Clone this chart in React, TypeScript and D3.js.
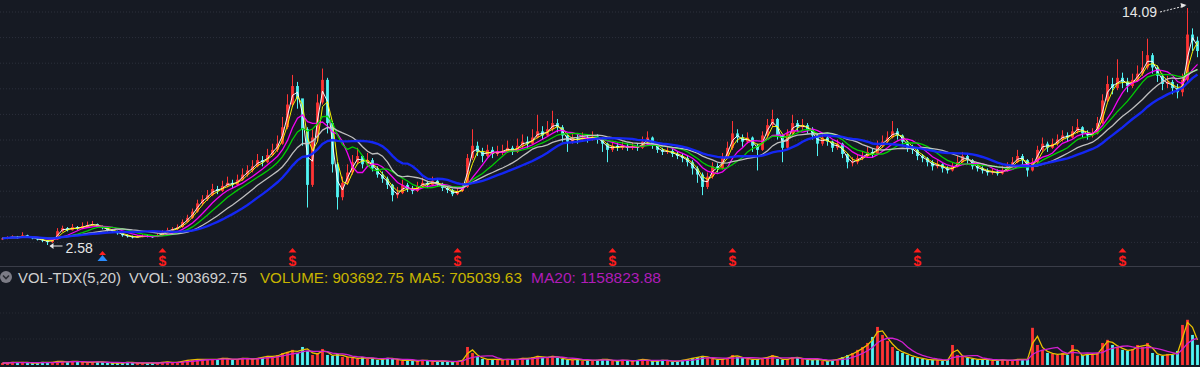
import React from "react";
import * as d3 from "d3";

// ---- data ----
const firstOpen = 2.85;
const closes = [
  2.90, 2.95, 2.98, 2.93, 3.05, 2.98, 2.90, 2.85, 2.80, 2.72,
  2.85, 3.25, 3.40, 3.30, 3.45, 3.38, 3.50, 3.55, 3.60, 3.48,
  3.40, 3.30, 3.25, 3.15, 3.05, 3.00, 2.95, 2.98, 3.02, 3.00,
  2.98, 3.05, 3.20, 3.30, 3.35, 3.45, 3.70, 3.90, 4.20, 4.60,
  4.80, 5.00, 5.30, 5.20, 5.45, 5.60, 5.50, 5.75, 6.00, 6.20,
  6.40, 6.70, 6.60, 6.95, 7.20, 7.50, 8.30, 9.40, 10.30, 9.70,
  8.20, 5.50, 7.80, 9.50, 10.60, 8.50, 6.50, 4.90, 5.60, 6.10,
  6.60, 6.90, 6.50, 6.70, 6.30, 6.00, 5.80, 5.50, 5.00, 5.10,
  5.50, 5.30, 5.20, 5.45, 5.60, 5.50, 5.70, 5.55, 5.35, 5.25,
  5.05, 5.20, 5.40, 6.80, 7.40, 7.10, 6.90, 7.20, 7.00, 7.10,
  7.15, 7.30, 7.10, 7.40, 7.60, 7.50, 7.80, 8.10, 7.90, 8.20,
  8.50, 8.30, 7.90, 7.60, 7.75, 7.70, 7.80, 7.75, 7.85, 7.70,
  7.50, 7.20, 7.40, 7.30, 7.40, 7.30, 7.35, 7.30, 7.60, 7.80,
  7.40, 7.20, 7.10, 7.15, 7.00, 6.90, 6.80, 6.60, 6.30, 6.00,
  5.40, 5.90, 6.40, 6.30, 6.80, 7.30, 8.00, 7.80, 7.60, 7.80,
  7.40, 7.20, 7.90, 8.40, 8.70, 7.90, 7.30, 8.00, 8.50, 8.30,
  8.40, 8.20, 7.90, 7.50, 7.80, 7.60, 7.30, 7.50, 7.00, 6.60,
  6.60, 6.80, 6.90, 7.10, 7.00, 7.40, 7.60, 7.80, 8.10, 7.90,
  7.60, 7.30, 7.20, 6.90, 6.80, 6.60, 6.40, 6.50, 6.30, 6.20,
  6.40, 6.60, 6.90, 6.70, 6.40, 6.30, 6.20, 6.10, 6.15, 6.05,
  6.20, 6.40, 6.60, 6.90, 6.70, 6.20, 6.60, 7.20, 7.50, 7.30,
  7.50, 7.70, 7.90, 7.80, 8.10, 8.30, 8.00, 7.90, 8.00, 8.50,
  9.60, 10.40, 10.20, 10.70, 10.50, 10.30, 10.60, 10.90, 11.20, 11.80,
  11.20, 10.80, 10.40, 10.50, 10.20, 10.00, 10.60, 12.80, 12.50, 12.00,
];
const highs = [
  2.95, 3.00, 3.05, 3.02, 3.20, 3.08, 3.00, 2.93, 2.88, 2.82,
  2.92, 3.40, 3.52, 3.45, 3.60, 3.50, 3.68, 3.72, 3.75, 3.62,
  3.52, 3.44, 3.35, 3.28, 3.18, 3.10, 3.04, 3.06, 3.10, 3.08,
  3.05, 3.14, 3.30, 3.42, 3.45, 3.58, 3.82, 4.05, 4.35, 4.78,
  5.00, 5.25, 5.55, 5.45, 5.70, 5.90, 5.75, 6.00, 6.30, 6.45,
  6.70, 7.00, 6.90, 7.25, 7.50, 7.90, 8.80, 9.90, 10.84, 10.50,
  9.60, 8.30, 8.20, 9.90, 11.15, 10.70, 8.60, 6.60, 5.90, 6.50,
  6.95, 7.30, 6.95, 7.05, 6.80, 6.40, 6.15, 5.90, 5.55, 5.40,
  5.75, 5.60, 5.45, 5.65, 5.85, 5.70, 5.90, 5.80, 5.60, 5.45,
  5.30, 5.35, 5.60, 7.00, 8.20, 7.60, 7.30, 7.45, 7.35, 7.40,
  7.45, 7.65, 7.40, 7.75, 7.95, 7.85, 8.20, 8.90, 8.35, 8.60,
  9.10, 8.70, 8.40, 8.00, 8.00, 7.95, 8.05, 7.95, 8.10, 7.95,
  7.80, 7.55, 7.60, 7.55, 7.60, 7.50, 7.55, 7.50, 7.85, 8.10,
  7.85, 7.50, 7.30, 7.35, 7.25, 7.10, 7.00, 6.90, 6.70, 6.40,
  6.10, 6.10, 6.60, 6.55, 7.05, 7.60, 8.60, 8.20, 7.95, 8.05,
  7.85, 7.50, 8.10, 8.70, 9.15, 8.75, 7.95, 8.20, 8.90, 8.65,
  8.70, 8.50, 8.30, 8.00, 8.00, 7.90, 7.65, 7.70, 7.55, 7.05,
  6.85, 7.00, 7.15, 7.35, 7.25, 7.65, 7.90, 8.10, 8.60, 8.25,
  7.95, 7.65, 7.45, 7.25, 7.00, 6.85, 6.70, 6.70, 6.55, 6.40,
  6.60, 6.90, 7.10, 7.00, 6.75, 6.50, 6.40, 6.30, 6.30, 6.25,
  6.40, 6.60, 6.85, 7.20, 7.00, 6.75, 6.80, 7.40, 7.80, 7.60,
  7.75, 7.95, 8.15, 8.05, 8.35, 8.70, 8.35, 8.15, 8.25, 8.80,
  9.90, 10.80, 10.70, 11.60, 10.95, 10.70, 10.90, 11.30, 12.00, 12.60,
  11.90, 11.30, 10.90, 10.80, 10.60, 10.40, 10.90, 14.09, 13.10, 12.70,
];
const lows = [
  2.82, 2.86, 2.92, 2.88, 2.92, 2.94, 2.86, 2.80, 2.72, 2.58,
  2.68, 2.84, 3.20, 3.24, 3.28, 3.32, 3.35, 3.45, 3.50, 3.42,
  3.34, 3.24, 3.18, 3.08, 2.98, 2.94, 2.90, 2.92, 2.96, 2.95,
  2.93, 2.96, 3.02, 3.16, 3.26, 3.30, 3.42, 3.66, 3.85, 4.15,
  4.50, 4.72, 4.95, 5.05, 5.15, 5.38, 5.35, 5.45, 5.70, 5.90,
  6.10, 6.35, 6.40, 6.55, 6.90, 7.10, 7.45, 8.20, 9.30, 9.20,
  7.40, 4.40, 5.40, 7.60, 9.40, 8.00, 6.10, 4.30, 4.75, 5.50,
  6.00, 6.50, 6.30, 6.40, 6.15, 5.85, 5.60, 5.30, 4.70, 4.85,
  5.05, 5.15, 5.05, 5.15, 5.40, 5.35, 5.45, 5.40, 5.20, 5.10,
  4.95, 5.00, 5.15, 5.35, 6.70, 6.90, 6.60, 6.85, 6.80, 6.90,
  6.95, 7.05, 6.95, 7.05, 7.30, 7.30, 7.45, 7.75, 7.70, 7.85,
  8.10, 8.05, 7.60, 7.10, 7.50, 7.50, 7.60, 7.55, 7.65, 7.50,
  7.10, 6.60, 7.10, 7.15, 7.20, 7.15, 7.20, 7.15, 7.25, 7.50,
  7.25, 7.05, 6.95, 7.00, 6.85, 6.75, 6.60, 6.40, 6.00, 5.60,
  5.00, 5.30, 5.80, 6.10, 6.25, 6.75, 7.20, 7.55, 7.35, 7.50,
  7.10, 6.20, 7.15, 7.80, 8.30, 7.70, 6.60, 7.20, 7.90, 8.10,
  8.15, 8.00, 7.70, 6.90, 7.40, 7.40, 7.10, 7.20, 6.80, 6.30,
  6.40, 6.50, 6.70, 6.85, 6.85, 6.95, 7.30, 7.50, 7.75, 7.70,
  7.40, 7.10, 7.00, 6.70, 6.60, 6.40, 6.20, 6.30, 6.10, 6.05,
  6.15, 6.35, 6.55, 6.50, 6.25, 6.15, 6.05, 5.95, 6.00, 5.95,
  6.00, 6.15, 6.35, 6.55, 6.50, 5.90, 6.15, 6.55, 7.10, 7.10,
  7.25, 7.40, 7.60, 7.60, 7.75, 8.00, 7.80, 7.70, 7.80, 7.95,
  8.45, 9.50, 9.90, 10.10, 10.20, 10.00, 10.20, 10.50, 10.80, 11.10,
  10.90, 10.50, 10.10, 10.20, 9.90, 9.70, 9.80, 10.50, 12.00, 11.70,
];
// volume in units of 10,000 shares
const volumes = [
  9, 9, 14, 9, 14, 9, 9, 9, 14, 9,
  14, 18, 14, 14, 18, 14, 14, 9, 14, 14,
  14, 9, 9, 9, 9, 14, 9, 9, 9, 9,
  9, 9, 14, 14, 9, 14, 18, 23, 23, 27,
  23, 27, 23, 27, 32, 27, 23, 27, 32, 27,
  27, 32, 36, 41, 36, 45, 54, 59, 68, 54,
  81, 63, 45, 54, 72, 45, 41, 50, 36, 36,
  32, 27, 36, 27, 32, 23, 27, 32, 27, 23,
  18, 23, 18, 18, 23, 18, 14, 18, 18, 14,
  14, 18, 23, 81, 54, 36, 27, 23, 27, 23,
  23, 27, 23, 27, 32, 27, 36, 41, 32, 36,
  41, 32, 27, 23, 23, 27, 18, 23, 18, 23,
  27, 23, 18, 18, 23, 18, 18, 23, 27, 18,
  18, 18, 23, 18, 14, 18, 23, 27, 32, 36,
  41, 32, 27, 23, 27, 32, 45, 36, 32, 27,
  23, 27, 32, 36, 45, 27, 23, 27, 36, 32,
  27, 23, 23, 27, 18, 18, 23, 27, 36, 45,
  54, 68, 81, 99, 126, 171, 135, 108, 81, 63,
  54, 45, 36, 32, 27, 23, 23, 23, 18, 23,
  90, 45, 36, 32, 27, 23, 27, 23, 18, 23,
  23, 18, 23, 27, 23, 27, 167, 90, 68, 54,
  50, 45, 54, 45, 90, 41, 45, 50, 45, 54,
  99, 113, 90, 81, 68, 63, 72, 90, 81, 99,
  54, 45, 41, 50, 45, 63, 180, 203, 135, 90.37,
];
const dividendBars = [32, 58, 91, 122, 146, 183, 224];
const blueMarkBars = [20];
const priceMAs = [
  { win: 2, color: "#ffffff", width: 1 },
  { win: 3, color: "#ffff00", width: 1 },
  { win: 6, color: "#ff00ff", width: 1.3 },
  { win: 9, color: "#00d800", width: 1.3 },
  { win: 14, color: "#c8c8c8", width: 1.3 },
  { win: 20, color: "#1428ff", width: 2.4 },
];
const volMAs = [
  { win: 2, color: "#e8c000" },
  { win: 6, color: "#d020d0" },
];
const headerItems = [
  { text: "VOL-TDX(5,20)", x: 18, len: 103, color: "#d0d0d0" },
  { text: "VVOL: 903692.75", x: 129, len: 118, color: "#d0d0d0" },
  { text: "VOLUME: 903692.75", x: 260, len: 144, color: "#c8b400" },
  { text: "MA5: 705039.63", x: 409, len: 113, color: "#c8b400" },
  { text: "MA20: 1158823.88", x: 531, len: 130, color: "#b01cb8" },
];
const priceGrid = [12, 37.6, 63.2, 88.8, 114.4, 140, 165.6, 191.2, 216.8, 242.4];
const volGrid = [313, 339];

const W = 1200;
const H = 367;
const BG = "#161a23";
const UP = "#ff3434";
const DOWN = "#50f5f5";

function movingAvg(arr: number[], w: number): number[] {
  return arr.map((_, i) => {
    const s = Math.max(0, i - w + 1);
    return d3.mean(arr.slice(s, i + 1)) as number;
  });
}

export default function App() {
  const N = closes.length;
  const opens = closes.map((c, i) => (i === 0 ? firstOpen : closes[i - 1]));
  const x = d3.scaleLinear().domain([0, N]).range([0, W]);
  const cx = (i: number) => x(i + 0.5);
  const y = d3.scaleLinear().domain([2.58, 14.09]).range([245, 8]);
  const yv = d3.scaleLinear().domain([0, 220]).range([365, 316]);
  const bw = (x(1) - x(0)) * 0.56;

  const priceLine = d3
    .line<number>()
    .x((_, i) => cx(i))
    .y((d) => y(d));
  const volLine = d3
    .line<number>()
    .x((_, i) => cx(i))
    .y((d) => yv(d));

  const lowIdx = d3.minIndex(lows);
  const highIdx = d3.maxIndex(highs);

  return (
    <div style={{ position: "absolute", left: 0, top: 0 }}>
      <svg width={W} height={H} style={{ display: "block", background: BG }}>
        <rect x={0} y={0} width={W} height={H} fill={BG} />
        {priceGrid.map((g, i) => (
          <line key={"g" + i} x1={0} x2={W} y1={g} y2={g} stroke="#2c303c" strokeWidth={1} strokeDasharray="1 2" />
        ))}
        {volGrid.map((g, i) => (
          <line key={"vg" + i} x1={0} x2={W} y1={g} y2={g} stroke="#262a35" strokeWidth={1} strokeDasharray="1 2" />
        ))}
        {/* candles */}
        {closes.map((c, i) => {
          const o = opens[i];
          const up = c >= o;
          const col = up ? UP : DOWN;
          const top = y(Math.max(o, c));
          const bot = y(Math.min(o, c));
          return (
            <g key={"c" + i}>
              <line x1={cx(i)} x2={cx(i)} y1={y(highs[i])} y2={y(lows[i])} stroke={col} strokeWidth={1} />
              <rect x={cx(i) - bw / 2} y={top} width={bw} height={Math.max(1, bot - top)} fill={col} />
            </g>
          );
        })}
        {/* moving averages */}
        {priceMAs.map((m, k) => (
          <path key={"ma" + k} d={priceLine(movingAvg(closes, m.win)) || ""} fill="none" stroke={m.color} strokeWidth={m.width} opacity={0.95} />
        ))}
        {/* low / high labels */}
        <g>
          <line x1={cx(lowIdx) + 3} x2={cx(lowIdx) + 15} y1={y(lows[lowIdx]) + 1} y2={y(lows[lowIdx]) + 1} stroke="#e6e6e6" strokeWidth={1} />
          <path d={`M${cx(lowIdx) + 2},${y(lows[lowIdx]) + 1} l4,-3 l0,6 z`} fill="#e6e6e6" />
          <text x={cx(lowIdx) + 18} y={253} fill="#e6e6e6" fontSize={14} fontFamily="Liberation Sans, Arial, sans-serif">
            {lows[lowIdx].toFixed(2)}
          </text>
        </g>
        <g>
          <text x={1122} y={17} fill="#e6e6e6" fontSize={14} fontFamily="Liberation Sans, Arial, sans-serif">
            {highs[highIdx].toFixed(2)}
          </text>
          <line x1={1160} y1={12} x2={cx(highIdx) - 3} y2={y(highs[highIdx]) - 2} stroke="#e6e6e6" strokeWidth={1} strokeDasharray="2 1.5" />
          <path d={`M${cx(highIdx) - 1},${y(highs[highIdx]) - 3} l-6,-2 l1,5 z`} fill="#e6e6e6" />
        </g>
        {/* event markers */}
        {dividendBars.map((b, k) => (
          <g key={"d" + k}>
            <path d={`M${cx(b)},248 l-4,4.5 l8,0 z`} fill="#ff1c1c" />
            <text x={cx(b)} y={266} textAnchor="middle" fill="#ff1c1c" fontSize={14} fontWeight="bold" fontFamily="Liberation Sans, Arial, sans-serif">
              $
            </text>
          </g>
        ))}
        {blueMarkBars.map((b, k) => (
          <g key={"b" + k}>
            <path d={`M${cx(b)},251 l-3.5,4 l7,0 z`} fill="#ff2020" />
            <path d={`M${cx(b)},255 l-5,6 l10,0 z`} fill="#2a8cff" />
          </g>
        ))}
        {/* separator */}
        <line x1={0} x2={W} y1={266.5} y2={266.5} stroke="#3a3d48" strokeWidth={1} />
        {/* volume header */}
        <circle cx={6} cy={277} r={6} fill="#7c7c86" />
        <path d="M3,275.5 L6,278.5 L9,275.5" fill="none" stroke="#2a2c33" strokeWidth={1.6} />
        {headerItems.map((h, k) => (
          <text key={"h" + k} x={h.x} y={283} fill={h.color} fontSize={15} textLength={h.len} lengthAdjust="spacingAndGlyphs" fontFamily="Liberation Sans, Arial, sans-serif">
            {h.text}
          </text>
        ))}
        {/* volume bars */}
        {volumes.map((v, i) => {
          const up = closes[i] >= opens[i];
          return (
            <rect key={"v" + i} x={cx(i) - bw / 2} y={yv(v)} width={bw} height={yv(0) - yv(v)} fill={up ? UP : DOWN} />
          );
        })}
        {volMAs.map((m, k) => (
          <path key={"vm" + k} d={volLine(movingAvg(volumes, m.win)) || ""} fill="none" stroke={m.color} strokeWidth={1.3} />
        ))}
      </svg>
    </div>
  );
}
